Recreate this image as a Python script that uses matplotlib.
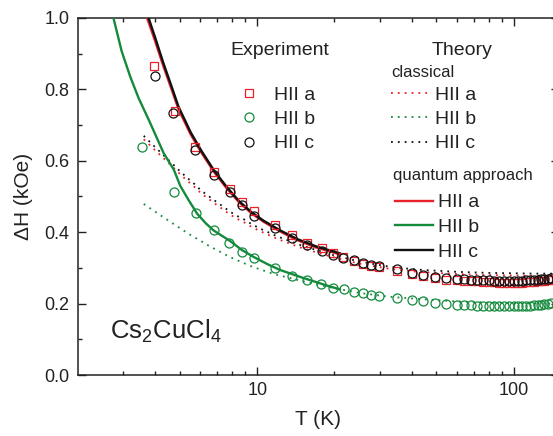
import matplotlib
matplotlib.use("Agg")
import matplotlib.pyplot as plt
from matplotlib.lines import Line2D
from matplotlib.ticker import FixedLocator, NullFormatter

plt.rcParams['font.family'] = ['Liberation Sans', 'DejaVu Sans']
plt.rcParams['mathtext.fontset'] = 'custom'
plt.rcParams['mathtext.rm'] = 'Liberation Sans'

RED = '#E8212B'
GREEN = '#138A3C'
BLACK = '#111111'

# ---------------- experimental data ----------------
T_a = [3.97, 4.79, 5.72, 6.80, 7.80, 8.72, 9.73, 11.75, 13.65, 15.7, 17.85, 19.8, 21.7,
       23.8, 25.9, 27.9, 29.9, 35, 40, 44.4, 49.3, 54.7, 60, 64, 68, 72, 76, 80, 84, 88,
       92, 96, 100, 104, 108, 112, 116, 120, 124, 128, 132, 136, 140]
H_a = [0.866, 0.740, 0.638, 0.569, 0.521, 0.485, 0.460, 0.420, 0.392, 0.371, 0.355, 0.341, 0.331,
       0.320, 0.311, 0.305, 0.302, 0.292, 0.283, 0.276, 0.271, 0.267, 0.265, 0.264, 0.263, 0.262,
       0.261, 0.260, 0.260, 0.259, 0.259, 0.259, 0.259, 0.259, 0.259, 0.260, 0.260, 0.261, 0.262,
       0.263, 0.264, 0.265, 0.267]

T_b = [3.55, 4.73, 5.77, 6.76, 7.73, 8.72, 9.73, 11.75, 13.65, 15.7, 17.7, 19.8, 21.8,
       23.8, 25.9, 27.9, 29.9, 35, 40, 44.4, 49.3, 54.7, 60, 64, 68, 72, 76, 80, 84, 88,
       92, 96, 100, 104, 108, 112, 116, 120, 124, 128, 132, 136, 140]
H_b = [0.640, 0.513, 0.455, 0.406, 0.369, 0.344, 0.327, 0.299, 0.277, 0.266, 0.254, 0.245, 0.241,
       0.233, 0.229, 0.224, 0.221, 0.215, 0.210, 0.207, 0.203, 0.199, 0.197, 0.196, 0.195, 0.194,
       0.194, 0.193, 0.193, 0.193, 0.193, 0.193, 0.193, 0.193, 0.193, 0.194, 0.194, 0.195, 0.196,
       0.197, 0.198, 0.199, 0.201]

T_c = [4.0, 4.71, 5.72, 6.80, 7.80, 8.72, 9.73, 11.75, 13.65, 15.7, 17.85, 19.8, 21.7,
       23.8, 25.9, 27.9, 29.9, 35, 40, 44.4, 49.3, 54.7, 60, 64, 68, 72, 76, 80, 84, 88,
       92, 96, 100, 104, 108, 112, 116, 120, 124, 128, 132, 136, 140]
H_c = [0.838, 0.734, 0.631, 0.561, 0.513, 0.476, 0.446, 0.411, 0.383, 0.364, 0.348, 0.336, 0.327,
       0.322, 0.313, 0.308, 0.305, 0.296, 0.287, 0.280, 0.275, 0.271, 0.269, 0.268, 0.267, 0.266,
       0.265, 0.265, 0.264, 0.264, 0.264, 0.264, 0.264, 0.264, 0.264, 0.265, 0.265, 0.266, 0.267,
       0.268, 0.269, 0.270, 0.272]

# ---------------- classical theory (dotted) ----------------
Tcl_ac = [3.61, 3.86, 4.68, 5.01, 5.32, 5.69, 6.06, 6.47, 6.9, 7.39, 7.85, 8.38, 8.98, 9.5,
          10.2, 12.0, 15.0, 20.0, 25.0, 33.0, 42.5, 60, 80, 100, 120, 150]
Hcl_c = [0.670, 0.649, 0.591, 0.570, 0.553, 0.535, 0.516, 0.501, 0.486, 0.471, 0.457, 0.445,
         0.434, 0.423, 0.411, 0.388, 0.362, 0.335, 0.318, 0.303, 0.295, 0.289, 0.286, 0.285,
         0.284, 0.284]
Hcl_a = [0.660, 0.640, 0.583, 0.562, 0.545, 0.527, 0.508, 0.493, 0.478, 0.463, 0.449, 0.437,
         0.426, 0.415, 0.404, 0.381, 0.355, 0.329, 0.312, 0.297, 0.289, 0.283, 0.280, 0.279,
         0.278, 0.278]
Tcl_b = [3.61, 4.41, 5.36, 6.51, 7.85, 9.59, 11.6, 15.0, 20.0, 25.0, 32.9, 42.5, 60, 80, 100,
         120, 150]
Hcl_b = [0.479, 0.437, 0.397, 0.361, 0.330, 0.303, 0.283, 0.263, 0.243, 0.230, 0.219, 0.213,
         0.206, 0.203, 0.201, 0.200, 0.200]

# ---------------- quantum approach (solid) ----------------
Tq_c = [3.77, 4.0, 4.3, 4.6, 4.93, 5.5, 6.07, 6.8, 7.6, 8.5, 9.5, 10.6, 12.3, 14.3, 17.0, 21.0]
Hq_c = [1.000, 0.945, 0.875, 0.815, 0.752, 0.680, 0.627, 0.572, 0.527, 0.487, 0.456, 0.432,
        0.405, 0.381, 0.360, 0.341]
Tq_a = [3.72, 4.0, 4.3, 4.6, 4.93, 5.5, 6.07, 6.8, 7.6, 8.5, 9.5, 10.6, 12.3, 14.3, 17.0, 21.0]
Hq_a = [1.000, 0.935, 0.866, 0.807, 0.745, 0.674, 0.622, 0.568, 0.523, 0.484, 0.453, 0.429,
        0.402, 0.378, 0.357, 0.338]
Tq_b = [2.75, 2.96, 3.2, 3.45, 3.78, 4.32, 4.73, 5.01, 5.4, 5.83, 6.3, 6.76, 7.85, 8.72, 9.67,
        11.0, 12.3, 15.1, 19.2, 21.0]
Hq_b = [1.000, 0.907, 0.835, 0.775, 0.714, 0.621, 0.575, 0.530, 0.490, 0.452, 0.425, 0.405,
        0.375, 0.350, 0.331, 0.310, 0.294, 0.272, 0.248, 0.240]

x_major = [10, 100]
x_major_labels = ['10', '100']
y_ticks = [0.0, 0.2, 0.4, 0.6, 0.8, 1.0]

W, H = 553, 436
fig = plt.figure(figsize=(W / 100, H / 100), dpi=100)
ax = fig.add_axes([78 / W, 1 - 375 / H, 480.7 / W, 357 / H])
ax.set_xscale('log')
ax.set_xlim(2, 150)
ax.set_ylim(0, 1.0)

dot = (0, (1, 2.8))
ax.plot(Tcl_ac, Hcl_a, color=RED, lw=1.3, ls=dot, zorder=2)
ax.plot(Tcl_ac, Hcl_c, color=BLACK, lw=1.3, ls=dot, zorder=2)
ax.plot(Tcl_b, Hcl_b, color=GREEN, lw=1.3, ls=dot, zorder=2)

ax.plot(Tq_a, Hq_a, color=RED, lw=1.7, zorder=3)
ax.plot(Tq_c, Hq_c, color=BLACK, lw=1.7, zorder=3)
ax.plot(Tq_b, Hq_b, color=GREEN, lw=1.7, zorder=3)

ax.plot(T_a, H_a, ls='none', marker='s', ms=5.8, mfc='none', mec=RED, mew=0.9, zorder=4)
ax.plot(T_b, H_b, ls='none', marker='o', ms=6.5, mfc='none', mec=GREEN, mew=0.9, zorder=4)
ax.plot(T_c, H_c, ls='none', marker='o', ms=6.5, mfc='none', mec=BLACK, mew=0.9, zorder=5)

ax.xaxis.set_major_locator(FixedLocator(x_major))
ax.set_xticklabels(x_major_labels)
ax.xaxis.set_minor_locator(FixedLocator([3, 4, 5, 6, 7, 8, 9, 20, 30, 40, 50, 60, 70, 80, 90]))
ax.xaxis.set_minor_formatter(NullFormatter())
ax.set_yticks(y_ticks)
ax.set_yticklabels(['%.1f' % v for v in y_ticks])
ax.yaxis.set_minor_locator(FixedLocator([0.1, 0.3, 0.5, 0.7, 0.9]))

ax.tick_params(which='both', direction='in', top=True, right=True, width=1.0, color='#222222',
               labelsize=13, labelcolor='#222222')
ax.tick_params(which='major', length=5.5)
ax.tick_params(which='minor', length=3)
ax.tick_params(axis='x', pad=5)
ax.tick_params(axis='y', pad=6)
for s in ax.spines.values():
    s.set_linewidth(1.1)
    s.set_color('#222222')

ax.set_xlabel('T (K)', fontsize=15, color='#222222', labelpad=8)
ax.set_ylabel('\u0394H (kOe)', fontsize=15, color='#222222', labelpad=8)


def ftext(x, y, s, size, **kw):
    fig.text(x / W, 1 - y / H, s, fontsize=size, color='#222222', va='baseline', **kw)


def fline(x1, x2, y, **kw):
    fig.add_artist(Line2D([x1 / W, x2 / W], [1 - y / H, 1 - y / H], transform=fig.transFigure, **kw))


def fmark(x, y, **kw):
    fig.add_artist(Line2D([x / W], [1 - y / H], transform=fig.transFigure, ls='none', **kw))


ftext(230, 55, 'Experiment', 14)
ftext(432, 55, 'Theory', 14)
ftext(391, 77, 'classical', 12)
ftext(393, 180, 'quantum approach', 12)

labels = ['HII a', 'HII b', 'HII c']
cols = [RED, GREEN, BLACK]
rows = [99.5, 124, 148.5]
for lab, c, yb, mk in zip(labels, cols, rows, ['s', 'o', 'o']):
    fmark(249, yb - 6.7, marker=mk, ms=5.8 if mk == 's' else 6.5, mfc='none', mec=c, mew=0.9)
    ftext(274, yb, lab, 14)
    fline(391, 429, yb - 6.7, color=c, lw=1.3, ls=dot)
    ftext(435, yb, lab, 14)

qrows = [207.3, 232, 257]
for lab, c, yb in zip(labels, cols, qrows):
    fline(395, 433, yb - 6.7, color=c, lw=1.7)
    ftext(438, yb, lab, 14)

ftext(110, 338, r'Cs$_\mathregular{2}$CuCl$_\mathregular{4}$', 18.5)

fig.savefig('out.png', dpi=100)
